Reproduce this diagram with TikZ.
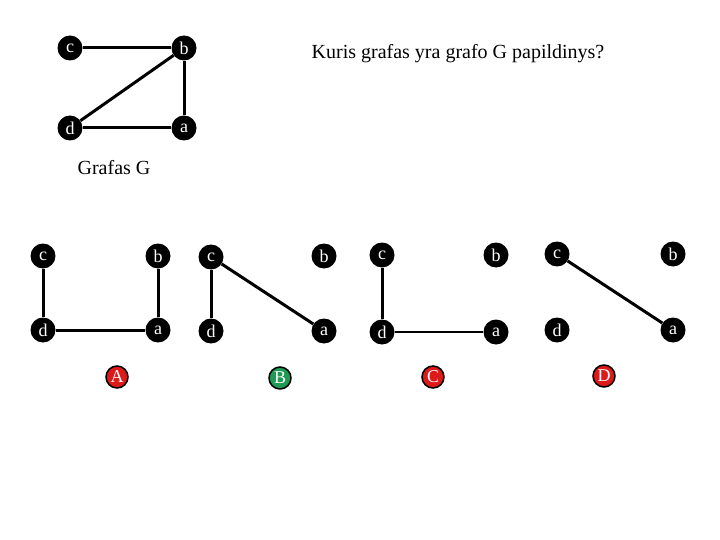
\documentclass[tikz,border=0pt]{standalone}
\usepackage{fontspec}
\setmainfont{Liberation Serif}
\usetikzlibrary{positioning}
\definecolor{wrongred}{HTML}{DD1A1A}
\definecolor{rightgreen}{HTML}{1E9A55}

\begin{document}
\begin{tikzpicture}[
  x=1pt, y=-1pt,
  vertex/.style={circle, fill=black, text=white, inner sep=0pt, minimum size=25pt, font=\fontsize{18}{18}\selectfont},
  answer/.style={circle, draw=black, line width=1.5pt, text=white, inner sep=0pt, minimum size=22pt, font=\fontsize{18}{18}\selectfont},
  edge/.style={line width=3pt},
  thinedge/.style={line width=2pt},
  caption/.style={font=\fontsize{20}{20}\selectfont}
]
  \useasboundingbox (0,0) rectangle (720,540);

  % graph G
  \node[vertex] (gc) at (70,48) {c};
  \node[vertex] (gb) at (184,48) {b};
  \node[vertex] (gd) at (70,128) {d};
  \node[vertex] (ga) at (184,128) {a};
  \node[caption] (gname) at (114,168) {Grafas G};
  \node[caption] (question) at (458,54) {Kuris grafas yra grafo G papildinys?};
  \draw[edge] (gc) -- (gb);
  \draw[edge] (gb) -- (gd);
  \draw[edge] (gb) -- (ga);
  \draw[edge] (gd) -- (ga);

  % answer A
  \node[vertex] (ac) at (43,256) {c};
  \node[vertex] (ab) at (158,256) {b};
  \node[vertex] (ad) at (43,330) {d};
  \node[vertex] (aa) at (158,330) {a};
  \node[answer, fill=wrongred] (alabel) at (117,377) {A};
  \draw[edge] (ac) -- (ad);
  \draw[edge] (ab) -- (aa);
  \draw[edge] (ad) -- (aa);

  % answer B
  \node[vertex] (bc) at (211,257) {c};
  \node[vertex] (bb) at (324,256) {b};
  \node[vertex] (bd) at (211,331) {d};
  \node[vertex] (ba) at (324,331) {a};
  \node[answer, fill=rightgreen] (blabel) at (280,378) {B};
  \draw[edge] (bc) -- (bd);
  \draw[edge] (bc) -- (ba);

  % answer C
  \node[vertex] (cc) at (382,255) {c};
  \node[vertex] (cb) at (496,255) {b};
  \node[vertex] (cd) at (382,332) {d};
  \node[vertex] (ca) at (496,332) {a};
  \node[answer, fill=wrongred] (clabel) at (433,377) {C};
  \draw[edge] (cc) -- (cd);
  \draw[thinedge] (cd) -- (ca);

  % answer D
  \node[vertex] (dc) at (557,254) {c};
  \node[vertex] (db) at (673,254) {b};
  \node[vertex] (dd) at (557,330) {d};
  \node[vertex] (da) at (673,330) {a};
  \node[answer, fill=wrongred] (dlabel) at (604,376) {D};
  \draw[edge] (dc) -- (da);
\end{tikzpicture}
\end{document}
